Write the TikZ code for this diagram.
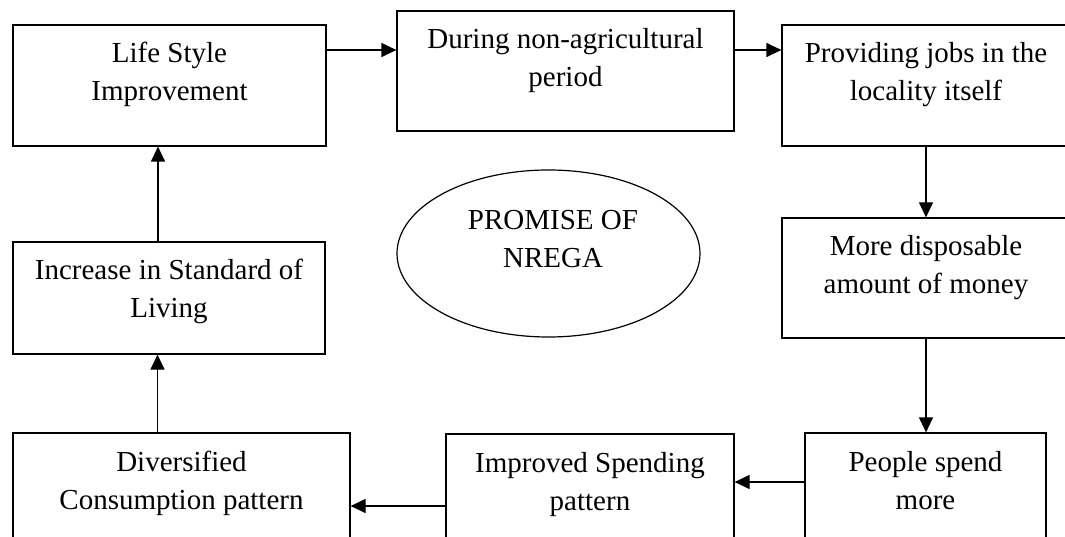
\documentclass[tikz,border=0pt]{standalone}
\usepackage{fontspec}
\setmainfont{Liberation Serif}
\usetikzlibrary{arrows.meta,shapes.geometric,calc}
\newcommand{\bxt}[3]{\parbox[c][#2][t]{#1}{\centering\vspace*{11.4pt}\strut #3}}
\begin{document}
\begin{tikzpicture}[x=1pt,y=-1pt,
  box/.style={draw,line width=1.2pt,inner sep=0pt,rectangle},
  arr/.style={line width=1.2pt,-{Triangle[length=15pt,width=14pt]}},
  every node/.style={font=\fontsize{29}{38}\selectfont}]
\useasboundingbox (0,0) rectangle (1065,537);
\node[box] (b1) at (169.5,85.5) {\bxt{313pt}{121pt}{Life Style\\Improvement}};
\node[box] (b2) at (565.5,71) {\bxt{337pt}{120pt}{During non-agricultural\\period}};
\node[box] (b3) at (926,85.5) {\bxt{288pt}{121pt}{Providing jobs in the\\locality itself}};
\node[box] (b4) at (926,278) {\bxt{288pt}{120pt}{More disposable\\amount of money}};
\node[box] (b5) at (925.5,493) {\bxt{241pt}{120pt}{People spend\\more}};
\node[box] (b6) at (590,494) {\bxt{288pt}{120pt}{Improved Spending\\pattern}};
\node[box] (b7) at (181.5,493) {\bxt{337pt}{120pt}{Diversified\\Consumption pattern}};
\node[box] (b8) at (169,298) {\bxt{312pt}{112pt}{Increase in Standard of\\Living}};
\node[draw,line width=1.2pt,ellipse,inner sep=0pt,minimum width=303pt,minimum height=167pt] (e) at (548.5,253.5)
  {\hspace*{9pt}\parbox[c][110pt][t]{200pt}{\centering\vspace*{4.9pt}\strut PROMISE OF\\NREGA}};
\draw[arr] ([yshift=35.5pt]b1.east) -- ([yshift=35.5pt]b1.east -| b2.west);
\draw[arr] ([yshift=21pt]b2.east) -- ([yshift=21pt]b2.east -| b3.west);
\draw[arr] (b3.south) -- (b4.north);
\draw[arr] (b4.south) -- (b4.south |- b5.north);
\draw[arr] ([yshift=11pt]b5.west) -- ([yshift=11pt]b5.west -| b6.east);
\draw[arr] ([yshift=-12pt]b6.west) -- ([yshift=-12pt]b6.west -| b7.east);
\draw[arr] ([xshift=-24pt]b7.north) -- ([xshift=-24pt]b7.north |- b8.south);
\draw[arr] ([xshift=-11pt]b8.north) -- ([xshift=-11pt]b8.north |- b1.south);
\end{tikzpicture}
\end{document}
